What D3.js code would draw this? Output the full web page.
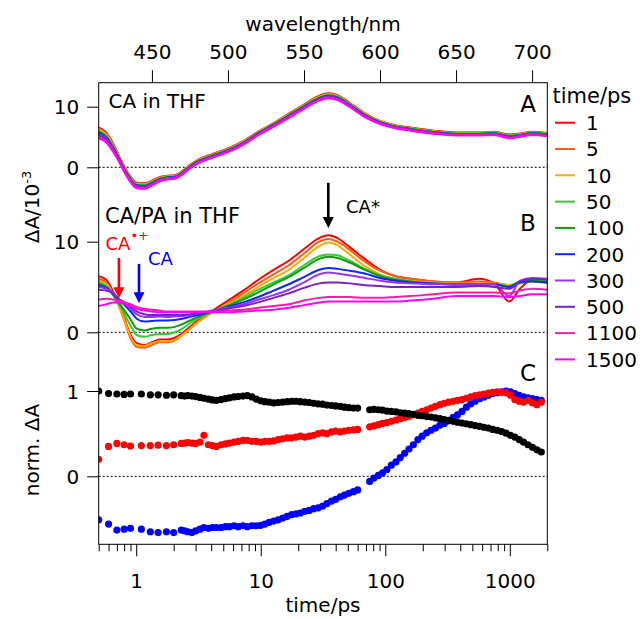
<!DOCTYPE html>
<html><head><meta charset="utf-8">
<script src="https://cdn.jsdelivr.net/npm/d3@7"></script>
<style>body{margin:0;background:#fff} svg{display:block} text{font-family:"DejaVu Sans",sans-serif;fill:#000}</style>
</head><body><svg id="c" width="644" height="619"></svg>
<script>
// ---------- DATA ----------
const wavelengths = [415,420,425,428,432,436,440,445,450,455,460,465,470,475,480,490,500,510,520,530,540,550,560,566,572,580,590,600,610,620,635,650,665,675,685,692,700,710];
const timeLabels = ["1","5","10","50","100","200","300","500","1100","1500"];
const seriesColors = ["#ff0000","#ff5a14","#ffaa00","#33cc33","#129a12","#0a28ff","#9933ff","#7a1fcc","#ff1aa8","#ff00ff"];

// Panel A: CA in THF (ΔA / 10^-3)
const specA_1    = [6.6,5.7,3.65,2.1,0.05,-1.55,-2.55,-2.65,-2.2,-1.65,-1.4,-1.3,-0.6,0.4,1.2,2.2,3.1,4.3,5.9,7.3,8.85,10.35,11.8,12.2,11.9,10.65,8.9,7.65,6.95,6.55,6.05,5.75,5.75,5.85,5.4,5.55,5.85,5.65];
const specA_5    = [6.38,5.51,3.49,1.98,-0.06,-1.66,-2.66,-2.76,-2.3,-1.73,-1.47,-1.37,-0.67,0.33,1.13,2.13,3.03,4.23,5.83,7.23,8.77,10.27,11.7,12.1,11.8,10.57,8.83,7.59,6.89,6.49,5.99,5.69,5.69,5.79,5.33,5.49,5.79,5.59];
const specA_10   = [6.24,5.38,3.39,1.9,-0.13,-1.73,-2.73,-2.83,-2.36,-1.79,-1.52,-1.42,-0.72,0.28,1.08,2.08,2.98,4.18,5.78,7.18,8.71,10.21,11.64,12.04,11.74,10.51,8.78,7.55,6.85,6.45,5.95,5.65,5.65,5.75,5.28,5.45,5.75,5.55];
const specA_50   = [6.02,5.19,3.23,1.78,-0.24,-1.84,-2.84,-2.94,-2.46,-1.87,-1.59,-1.49,-0.79,0.21,1.01,2.01,2.91,4.11,5.71,7.11,8.63,10.13,11.54,11.94,11.64,10.43,8.71,7.49,6.79,6.39,5.89,5.59,5.59,5.69,5.21,5.39,5.69,5.49];
const specA_100  = [5.84,5.03,3.1,1.68,-0.33,-1.93,-2.93,-3.03,-2.54,-1.94,-1.65,-1.55,-0.85,0.15,0.95,1.95,2.85,4.05,5.65,7.05,8.56,10.06,11.46,11.86,11.56,10.36,8.65,7.44,6.74,6.34,5.84,5.54,5.54,5.64,5.15,5.34,5.64,5.44];
const specA_200  = [5.66,4.87,2.97,1.58,-0.42,-2.02,-3.02,-3.12,-2.62,-2.01,-1.71,-1.61,-0.91,0.09,0.89,1.89,2.79,3.99,5.59,6.99,8.49,9.99,11.38,11.78,11.48,10.29,8.59,7.39,6.69,6.29,5.79,5.49,5.49,5.59,5.09,5.29,5.59,5.39];
const specA_300  = [5.48,4.71,2.84,1.48,-0.51,-2.11,-3.11,-3.21,-2.7,-2.08,-1.77,-1.67,-0.97,0.03,0.83,1.83,2.73,3.93,5.53,6.93,8.42,9.92,11.3,11.7,11.4,10.22,8.53,7.34,6.64,6.24,5.74,5.44,5.44,5.54,5.03,5.24,5.54,5.34];
const specA_500  = [5.3,4.55,2.71,1.38,-0.6,-2.2,-3.2,-3.3,-2.78,-2.15,-1.83,-1.73,-1.03,-0.03,0.77,1.77,2.67,3.87,5.47,6.87,8.35,9.85,11.22,11.62,11.32,10.15,8.47,7.29,6.59,6.19,5.69,5.39,5.39,5.49,4.97,5.19,5.49,5.29];
const specA_1100 = [5.02,4.29,2.51,1.22,-0.74,-2.34,-3.34,-3.44,-2.9,-2.27,-1.93,-1.83,-1.13,-0.13,0.67,1.67,2.57,3.77,5.37,6.77,8.23,9.73,11.1,11.5,11.2,10.03,8.37,7.21,6.51,6.11,5.61,5.31,5.31,5.41,4.87,5.11,5.41,5.21];
const specA_1500 = [4.8,4.1,2.35,1.1,-0.85,-2.45,-3.45,-3.55,-3.0,-2.35,-2.0,-1.9,-1.2,-0.2,0.6,1.6,2.5,3.7,5.3,6.7,8.15,9.65,11.0,11.4,11.1,9.95,8.3,7.15,6.45,6.05,5.55,5.25,5.25,5.35,4.8,5.05,5.35,5.15];

// Panel B: CA/PA in THF (ΔA / 10^-3)
const specB_1    = [6.2,5.8,4.3,3.2,1.5,-0.3,-1.2,-1.4,-1.1,-0.8,-0.8,-0.6,-0.1,0.6,1.3,2.4,3.5,4.6,5.8,6.9,7.9,9.2,10.4,10.7,10.4,9.4,8.1,6.9,6.2,5.9,5.6,5.5,5.9,5.4,3.4,4.8,5.8,5.6];
const specB_5    = [5.9,5.5,4.1,3.0,1.2,-0.7,-1.6,-1.7,-1.4,-1.1,-1.1,-0.9,-0.3,0.4,1.1,2.2,3.2,4.3,5.4,6.4,7.4,8.7,10.0,10.3,10.0,9.1,7.8,6.8,6.2,5.9,5.6,5.5,5.6,5.5,5.2,5.4,5.8,5.7];
const specB_10   = [5.7,5.3,4.0,3.0,1.3,-0.5,-1.4,-1.5,-1.2,-1.0,-1.0,-0.8,-0.3,0.4,1.1,2.2,3.1,4.0,5.0,6.0,6.9,8.2,9.5,9.9,9.6,8.6,7.3,6.4,5.9,5.7,5.5,5.4,5.4,5.4,5.2,5.5,5.6,5.4];
const specB_50   = [5.5,5.1,4.0,3.2,2.0,0.7,-0.3,-0.5,-0.3,-0.2,-0.2,0.0,0.4,1.0,1.5,2.3,3.0,3.8,4.7,5.5,6.3,7.4,8.4,8.6,8.5,7.9,7.0,6.3,5.9,5.6,5.4,5.2,5.2,5.3,5.1,5.6,5.7,5.6];
const specB_100  = [5.3,5.0,4.0,3.3,2.4,1.4,0.4,0.2,0.4,0.5,0.5,0.6,0.9,1.3,1.7,2.3,2.9,3.6,4.4,5.3,6.1,7.1,8.1,8.35,8.2,7.7,6.9,6.2,5.8,5.6,5.4,5.3,5.3,5.3,5.0,5.6,5.7,5.5];
const specB_200  = [5.2,4.9,4.2,3.6,3.0,2.3,1.5,1.2,1.25,1.3,1.3,1.35,1.5,1.7,1.9,2.3,2.8,3.3,3.9,4.6,5.3,6.1,6.9,7.1,7.0,6.8,6.5,6.0,5.7,5.5,5.4,5.3,5.3,5.3,5.0,5.5,5.6,5.5];
const specB_300  = [5.0,4.8,4.3,3.7,3.2,2.6,2.0,1.7,1.7,1.75,1.7,1.75,1.8,1.9,2.1,2.4,2.7,3.1,3.6,4.1,4.7,5.5,6.4,6.6,6.5,6.3,6.0,5.7,5.5,5.4,5.3,5.3,5.3,5.3,4.0,5.7,6.0,5.9];
const specB_500  = [4.7,4.6,4.2,3.7,3.3,2.8,2.3,2.0,1.9,1.9,1.9,1.9,1.9,2.0,2.1,2.3,2.6,2.9,3.3,3.8,4.3,4.9,5.4,5.5,5.5,5.4,5.2,5.1,5.0,5.0,5.0,5.0,5.1,5.0,4.8,5.6,5.9,5.8];
const specB_1100 = [3.6,3.7,3.6,3.5,3.3,3.1,2.8,2.6,2.5,2.4,2.3,2.3,2.3,2.3,2.3,2.3,2.4,2.5,2.7,2.9,3.1,3.5,3.8,3.9,3.9,3.9,3.8,3.8,3.9,4.0,4.2,4.4,4.4,4.4,4.3,4.6,4.8,4.7];
const specB_1500 = [2.9,3.1,3.3,3.3,3.1,2.9,2.6,2.4,2.3,2.2,2.2,2.2,2.2,2.2,2.2,2.2,2.2,2.3,2.4,2.5,2.7,3.0,3.3,3.4,3.4,3.4,3.4,3.4,3.4,3.5,3.7,4.0,4.0,4.0,3.9,4.0,4.2,4.2];

const specA = [specA_1,specA_5,specA_10,specA_50,specA_100,specA_200,specA_300,specA_500,specA_1100,specA_1500];
const specB = [specB_1,specB_5,specB_10,specB_50,specB_100,specB_200,specB_300,specB_500,specB_1100,specB_1500];

// Panel C: normalized kinetics
const kinTimes = [0.5,0.6,0.7,0.8,0.9,1.1,1.3,1.5,1.75,2.0,
 2.3,2.45,2.6,2.8,3.0,3.25,3.5,3.8,4.1,4.4,
 4.8,5.2,5.6,6.1,6.6,7.2,7.8,8.5,9.2,10,
 10.8,11.7,12.7,13.8,15,16.3,17.7,19.2,20.8,22.6,
 24.5,26.6,28.9,31.4,34,37,40,43.5,47,51,
 55.5,60,
 75,81,88,95,103,112,122,132,143,155,
 168,183,198,215,233,253,275,298,323,351,
 380,413,448,486,527,572,620,673,730,792,
 860,933,1012,1098,1190,1290,1400,1520,1650,1790];
const kinCAstar = [1.00,0.97,0.965,0.96,0.965,0.965,0.955,0.955,0.95,0.955,
 0.945,0.94,0.945,0.94,0.935,0.925,0.915,0.905,0.895,0.89,
 0.90,0.91,0.92,0.93,0.935,0.94,0.945,0.93,0.905,0.885,
 0.875,0.87,0.86,0.865,0.87,0.875,0.88,0.88,0.875,0.87,
 0.865,0.855,0.85,0.845,0.835,0.83,0.825,0.82,0.81,0.805,
 0.80,0.80,
 0.78,0.785,0.78,0.775,0.765,0.76,0.755,0.745,0.74,0.735,
 0.725,0.715,0.71,0.70,0.695,0.685,0.675,0.665,0.655,0.645,
 0.635,0.625,0.615,0.605,0.595,0.585,0.575,0.565,0.55,0.54,
 0.525,0.505,0.48,0.46,0.43,0.40,0.37,0.34,0.31,0.285];
const kinCAcation = [0.20,0.35,0.385,0.37,0.355,0.36,0.36,0.365,0.36,0.37,
 0.385,0.39,0.395,0.39,0.385,0.40,0.48,0.37,0.36,0.35,
 0.37,0.38,0.39,0.40,0.41,0.42,0.42,0.41,0.41,0.40,
 0.41,0.41,0.415,0.43,0.44,0.45,0.45,0.46,0.47,0.46,
 0.47,0.48,0.50,0.51,0.50,0.52,0.53,0.52,0.53,0.54,
 0.545,0.55,
 0.58,0.59,0.605,0.62,0.63,0.645,0.66,0.675,0.69,0.705,
 0.72,0.74,0.76,0.78,0.80,0.82,0.84,0.855,0.87,0.88,
 0.89,0.90,0.915,0.93,0.945,0.955,0.965,0.975,0.985,0.99,
 0.985,0.98,0.95,0.90,0.88,0.87,0.89,0.86,0.84,0.87];
const kinCA = [-0.51,-0.56,-0.63,-0.62,-0.61,-0.62,-0.65,-0.66,-0.65,-0.66,
 -0.63,-0.64,-0.65,-0.66,-0.64,-0.62,-0.60,-0.61,-0.60,-0.60,
 -0.60,-0.59,-0.59,-0.58,-0.59,-0.58,-0.59,-0.58,-0.58,-0.575,
 -0.56,-0.54,-0.525,-0.51,-0.49,-0.47,-0.45,-0.44,-0.43,-0.41,
 -0.40,-0.38,-0.37,-0.35,-0.32,-0.29,-0.27,-0.24,-0.22,-0.20,
 -0.18,-0.16,
 -0.06,-0.02,0.01,0.04,0.08,0.13,0.17,0.22,0.27,0.32,
 0.37,0.43,0.47,0.51,0.54,0.565,0.60,0.62,0.65,0.69,
 0.72,0.76,0.81,0.85,0.88,0.91,0.93,0.95,0.97,0.98,
 0.99,1.00,0.99,0.97,0.95,0.93,0.92,0.91,0.90,0.89];

const wlTicks = [450,500,550,600,650,700];
const timeMajorTicks = [1,10,100,1000];
const timeMinorTicks = [0.5,0.6,0.7,0.8,0.9,2,3,4,5,6,7,8,9,20,30,40,50,60,70,80,90,200,300,400,500,600,700,800,900,2000];
const ticksA = [0,10], ticksB = [0,10], ticksC = [0,1];

// ---------- LAYOUT ----------
const L=98.7, R=547.3, T=82.7, B=544.3;
const svg = d3.select("#c");
const xW = d3.scaleLinear().domain([415,710]).range([L,R]);
const xT = d3.scaleLog().domain([0.5,2000]).range([L,R]);
const yA = d3.scaleLinear().domain([0,10]).range([167.3,106.7]);
const yB = d3.scaleLinear().domain([0,10]).range([332.3,241.7]);
const yC = d3.scaleLinear().domain([0,1]).range([476.3,391]);

svg.append("defs").append("clipPath").attr("id","clip")
  .append("rect").attr("x",L).attr("y",T).attr("width",R-L).attr("height",B-T);

// zero lines
[yA,yB,yC].forEach(s=>{
  svg.append("line").attr("x1",L).attr("x2",R).attr("y1",s(0)).attr("y2",s(0))
    .attr("stroke","#000").attr("stroke-width",1).attr("stroke-dasharray","2,2");
});

const plot = svg.append("g").attr("clip-path","url(#clip)");

function drawSpectra(data, yS){
  const line = d3.line().x((d,i)=>xW(wavelengths[i])).y(d=>yS(d)).curve(d3.curveMonotoneX);
  data.forEach((arr,k)=>{
    plot.append("path").attr("d",line(arr)).attr("fill","none")
      .attr("stroke",seriesColors[k]).attr("stroke-width",2).attr("stroke-linejoin","round");
  });
}
drawSpectra(specA, yA);
drawSpectra(specB, yB);

// kinetics
[[kinCA,"#0000ff"],[kinCAcation,"#ff0000"],[kinCAstar,"#000000"]].forEach(([arr,col])=>{
  plot.append("g").selectAll("circle").data(arr).join("circle")
    .attr("cx",(d,i)=>xT(kinTimes[i])).attr("cy",d=>yC(d)).attr("r",3.6).attr("fill",col);
});

// frame
svg.append("rect").attr("x",L).attr("y",T).attr("width",R-L).attr("height",B-T)
  .attr("fill","none").attr("stroke","#000").attr("stroke-width",1);

function styleAxis(g, fs){
  g.select(".domain").remove();
  g.selectAll(".tick line").attr("stroke","#000");
  g.selectAll("text").attr("font-size",fs).attr("font-family","DejaVu Sans").attr("fill","#000");
}

// top axis
const gTop = svg.append("g").attr("transform",`translate(0,${T})`)
  .call(d3.axisTop(xW).tickValues(wlTicks).tickSize(12.5).tickPadding(11.5).tickFormat(d3.format("d")));
styleAxis(gTop, 20);

// bottom axis
const gBotMin = svg.append("g").attr("transform",`translate(0,${B})`)
  .call(d3.axisBottom(xT).tickValues(timeMinorTicks).tickSize(7).tickFormat(""));
styleAxis(gBotMin, 20);
const gBot = svg.append("g").attr("transform",`translate(0,${B})`)
  .call(d3.axisBottom(xT).tickValues(timeMajorTicks).tickSize(12).tickPadding(18).tickFormat(d3.format("d")));
styleAxis(gBot, 20);

// left axes
[[yA,ticksA],[yB,ticksB],[yC,ticksC]].forEach(([s,tv])=>{
  const g = svg.append("g").attr("transform",`translate(${L},0)`)
    .call(d3.axisLeft(s).tickValues(tv).tickSize(11.5).tickPadding(8).tickFormat(d3.format("d")));
  styleAxis(g, 20);
  g.selectAll("text").attr("dy","0.36em");
});

// axis titles
svg.append("text").attr("x",(L+R)/2).attr("y",31).attr("text-anchor","middle").attr("font-size",20).text("wavelength/nm");
svg.append("text").attr("x",(L+R)/2).attr("y",612).attr("text-anchor","middle").attr("font-size",20).text("time/ps");

const yl1 = svg.append("text").attr("transform","translate(39,207) rotate(-90)").attr("text-anchor","middle").attr("font-size",20);
yl1.append("tspan").text("ΔA/10");
yl1.append("tspan").attr("dy",-8).attr("font-size",13).text("-3");
svg.append("text").attr("transform","translate(39,450) rotate(-90)").attr("text-anchor","middle").attr("font-size",20).text("norm. ΔA");

// panel labels
svg.append("text").attr("x",528).attr("y",112).attr("text-anchor","middle").attr("font-size",23).text("A");
svg.append("text").attr("x",528).attr("y",231).attr("text-anchor","middle").attr("font-size",23).text("B");
svg.append("text").attr("x",528).attr("y",381).attr("text-anchor","middle").attr("font-size",23).text("C");

svg.append("text").attr("x",108.5).attr("y",108).attr("font-size",20).text("CA in THF");
svg.append("text").attr("x",105).attr("y",223).attr("font-size",21).text("CA/PA in THF");

// arrows in panel B
function arrow(wl, v0, v1, col){
  const x = xW(wl), ya = yB(v0), yt = yB(v1);
  svg.append("line").attr("x1",x).attr("x2",x).attr("y1",ya).attr("y2",yt-9)
    .attr("stroke",col).attr("stroke-width",2.6);
  svg.append("path").attr("d",`M${x-5.5},${yt-11}L${x+5.5},${yt-11}L${x},${yt}Z`).attr("fill",col);
}
arrow(566, 16.5, 11.5, "#000");
arrow(428.3, 8.2, 3.75, "#ff0000");
arrow(441.5, 7.55, 3.2, "#0000ff");

svg.append("text").attr("x",346).attr("y",213).attr("font-size",18).text("CA*");
const rc = svg.append("text").attr("x",105.5).attr("y",250).attr("font-size",18).attr("fill","#ff0000").style("fill","#ff0000");
rc.append("tspan").text("CA");
rc.append("tspan").attr("dy",-10).attr("font-size",13).text("•+");
svg.append("text").attr("x",148).attr("y",265).attr("font-size",18).style("fill","#0000ff").text("CA");

// legend
svg.append("text").attr("x",552.5).attr("y",103).attr("font-size",21).text("time/ps");
timeLabels.forEach((lab,i)=>{
  const y = 122.7 + i*26.3;
  svg.append("line").attr("x1",555).attr("x2",575).attr("y1",y).attr("y2",y)
    .attr("stroke",seriesColors[i]).attr("stroke-width",2);
  svg.append("text").attr("x",586).attr("y",y+7.3).attr("font-size",20).text(lab);
});
</script></body></html>
